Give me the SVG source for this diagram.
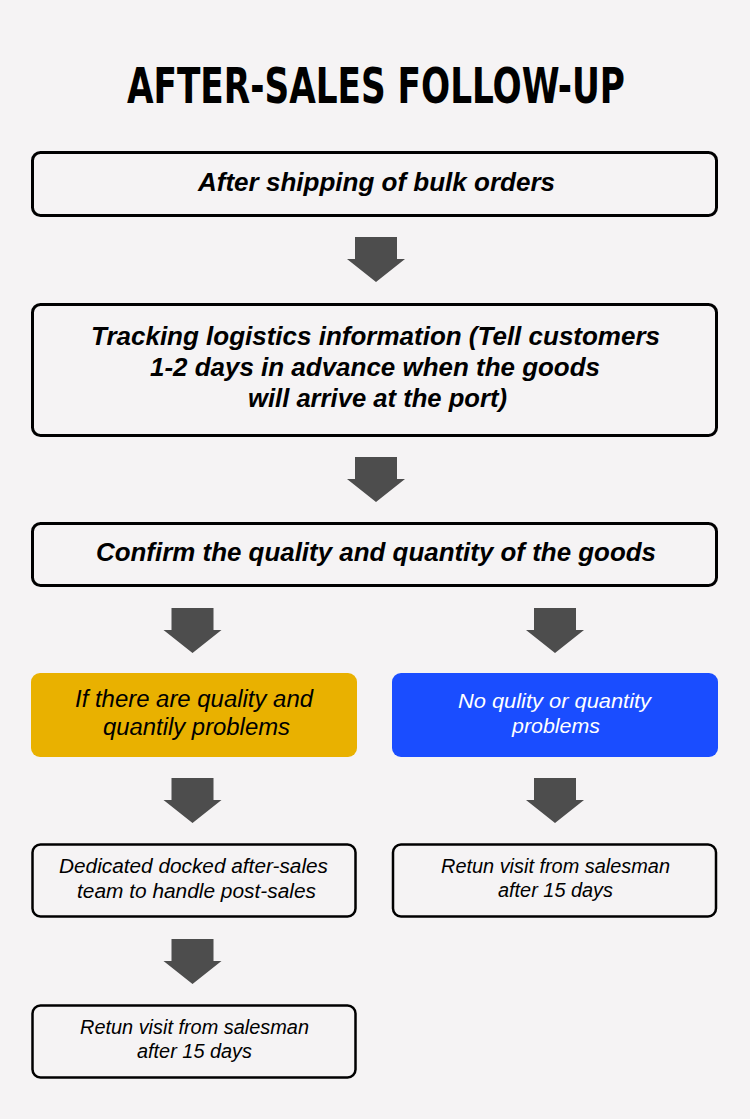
<svg xmlns="http://www.w3.org/2000/svg" width="750" height="1119" viewBox="0 0 750 1119">
<defs>
<style>
.bg{fill:#f5f3f4}
.box{fill:#f5f3f4;stroke:#000;stroke-width:3}
.sbox{fill:#f5f3f4;stroke:#000;stroke-width:2.5}
.arrow{fill:#4d4d4d}
.title{font-family:"DejaVu Sans Condensed","DejaVu Sans",sans-serif;font-weight:bold;font-size:44px;fill:#000;text-anchor:middle}
.bt{font-family:"Liberation Sans",Arial,sans-serif;font-weight:bold;font-style:italic;font-size:25px;fill:#000;text-anchor:middle}
.mt{font-family:"Liberation Sans",Arial,sans-serif;font-style:italic;font-size:23px;text-anchor:middle}
.mt2{font-family:"Liberation Sans",Arial,sans-serif;font-style:italic;font-size:21px;text-anchor:middle}
.st{font-family:"Liberation Sans",Arial,sans-serif;font-style:italic;font-size:20px;fill:#000;text-anchor:middle}
</style>
<path id="arr" d="M-21,0 H21 V22 H29 L0,45 L-29,22 H-21 Z"/>
</defs>
<rect class="bg" width="750" height="1119"/>
<text class="title" x="376" y="91" transform="scale(1,1.13)" textLength="498" lengthAdjust="spacingAndGlyphs">AFTER-SALES FOLLOW-UP</text>
<g id="connectors">
<use href="#arr" class="arrow" x="376" y="237"/>
<use href="#arr" class="arrow" x="376" y="457"/>
<use href="#arr" class="arrow" x="192.5" y="608"/>
<use href="#arr" class="arrow" x="555" y="608"/>
<use href="#arr" class="arrow" x="192.5" y="778"/>
<use href="#arr" class="arrow" x="555" y="778"/>
<use href="#arr" class="arrow" x="192.5" y="939"/>
</g>
<g id="n1">
<rect class="box" x="32.5" y="152.5" width="684" height="63" rx="8"/>
<text class="bt" x="376.5" y="191" textLength="357" lengthAdjust="spacingAndGlyphs">After shipping of bulk orders</text>
</g>
<g id="n2">
<rect class="box" x="32.5" y="304.5" width="684" height="131" rx="8"/>
<text class="bt" x="375.5" y="345" textLength="569" lengthAdjust="spacingAndGlyphs">Tracking logistics information (Tell customers</text>
<text class="bt" x="375" y="376" textLength="450" lengthAdjust="spacingAndGlyphs">1-2 days in advance when the goods</text>
<text class="bt" x="377.5" y="407" textLength="259" lengthAdjust="spacingAndGlyphs">will arrive at the port)</text>
</g>
<g id="n3">
<rect class="box" x="32.5" y="523.5" width="684" height="62" rx="8"/>
<text class="bt" x="376" y="561" textLength="560" lengthAdjust="spacingAndGlyphs">Confirm the quality and quantity of the goods</text>
</g>
<g id="n4">
<rect x="31" y="673" width="326" height="84" rx="9" fill="#e9b100"/>
<text class="mt" x="194" y="707" fill="#000" textLength="238" lengthAdjust="spacingAndGlyphs">If there are quality and</text>
<text class="mt" x="196.5" y="735" fill="#000" textLength="187" lengthAdjust="spacingAndGlyphs">quantily problems</text>
</g>
<g id="n5">
<rect x="392" y="673" width="326" height="84" rx="9" fill="#1a4dff"/>
<text class="mt2" x="554.5" y="708" fill="#fff" textLength="193" lengthAdjust="spacingAndGlyphs">No qulity or quantity</text>
<text class="mt2" x="556" y="733" fill="#fff" textLength="88" lengthAdjust="spacingAndGlyphs">problems</text>
</g>
<g id="n6">
<rect class="sbox" x="32.5" y="844.5" width="323" height="72" rx="8"/>
<text class="st" x="193.5" y="873" textLength="269" lengthAdjust="spacingAndGlyphs">Dedicated docked after-sales</text>
<text class="st" x="196.5" y="898" textLength="239" lengthAdjust="spacingAndGlyphs">team to handle post-sales</text>
</g>
<g id="n7">
<rect class="sbox" x="393" y="844.5" width="323" height="72" rx="8"/>
<text class="st" x="555.5" y="873" textLength="229" lengthAdjust="spacingAndGlyphs">Retun visit from salesman</text>
<text class="st" x="555.5" y="897" textLength="115" lengthAdjust="spacingAndGlyphs">after 15 days</text>
</g>
<g id="n8">
<rect class="sbox" x="32.5" y="1005.5" width="323" height="72" rx="8"/>
<text class="st" x="194.5" y="1034" textLength="229" lengthAdjust="spacingAndGlyphs">Retun visit from salesman</text>
<text class="st" x="194.5" y="1058" textLength="115" lengthAdjust="spacingAndGlyphs">after 15 days</text>
</g>
</svg>
